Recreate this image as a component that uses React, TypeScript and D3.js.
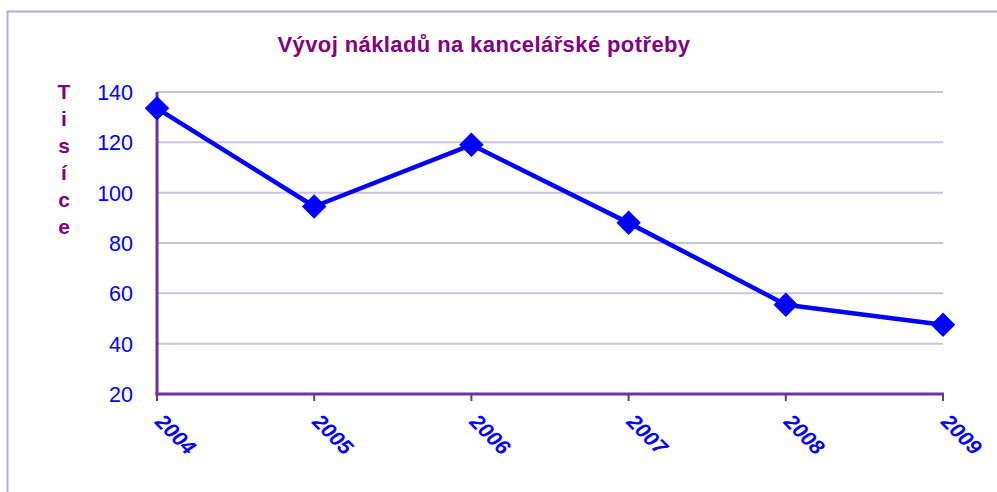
import React, { useEffect, useRef } from "react";
import * as d3 from "d3";

// chart data
const years = ["2004", "2005", "2006", "2007", "2008", "2009"];
const costs = [133.5, 94.5, 119, 88, 55.5, 47.5];
const yTicks = [20, 40, 60, 80, 100, 120, 140];
const chartTitle = "Vývoj nákladů na kancelářské potřeby";
const axisTitle = "Tisíce";

const W = 997;
const H = 492;

export default function App() {
  const ref = useRef<SVGSVGElement>(null);

  useEffect(() => {
    const svg = d3.select(ref.current);
    svg.selectAll("*").remove();

    const margin = { top: 92, right: 54, bottom: 98, left: 157 };

    // x: points at each year, y: linear 20..140
    const x = d3.scalePoint<string>()
      .domain(years)
      .range([margin.left, W - margin.right]);
    const y = d3.scaleLinear()
      .domain([20, 140])
      .range([H - margin.bottom, margin.top]);

    // outer frame (runs off the right/bottom edge)
    svg.append("rect")
      .attr("x", 7.5).attr("y", 11.5)
      .attr("width", 1010).attr("height", 500)
      .attr("fill", "none")
      .attr("stroke", "#B9AAD2")
      .attr("stroke-width", 2);

    // title
    svg.append("text")
      .attr("x", 484).attr("y", 52)
      .attr("text-anchor", "middle")
      .attr("font-family", "Liberation Sans, Arial, sans-serif")
      .attr("font-weight", "bold")
      .attr("font-size", 22)
      .attr("letter-spacing", 0.4)
      .attr("fill", "#800080")
      .text(chartTitle);

    // vertical axis title, one letter per line
    svg.append("g")
      .selectAll("text")
      .data(axisTitle.split(""))
      .enter()
      .append("text")
      .attr("x", 64)
      .attr("y", (d, i) => 99 + i * 27)
      .attr("text-anchor", "middle")
      .attr("font-family", "Liberation Sans, Arial, sans-serif")
      .attr("font-weight", "bold")
      .attr("font-size", 21)
      .attr("fill", "#800080")
      .text(d => d);

    // horizontal gridlines
    svg.append("g")
      .selectAll("line")
      .data(yTicks.filter(t => t > 20))
      .enter()
      .append("line")
      .attr("x1", margin.left)
      .attr("x2", W - margin.right)
      .attr("y1", d => y(d))
      .attr("y2", d => y(d))
      .attr("stroke", "#CDC2DC")
      .attr("stroke-width", 2);

    // y tick labels
    svg.append("g")
      .selectAll("text")
      .data(yTicks)
      .enter()
      .append("text")
      .attr("x", 133)
      .attr("y", d => y(d) + 8)
      .attr("text-anchor", "end")
      .attr("font-family", "Liberation Sans, Arial, sans-serif")
      .attr("font-size", 21.5)
      .attr("fill", "#0000FF")
      .text(d => d);

    // axes lines
    const axisColor = "#7030A0";
    svg.append("line")
      .attr("x1", margin.left).attr("x2", margin.left)
      .attr("y1", y(140)).attr("y2", y(20) + 1.5)
      .attr("stroke", axisColor).attr("stroke-width", 3);
    svg.append("line")
      .attr("x1", margin.left - 1.5).attr("x2", W - margin.right + 1)
      .attr("y1", y(20)).attr("y2", y(20))
      .attr("stroke", axisColor).attr("stroke-width", 3);

    // x ticks
    svg.append("g")
      .selectAll("line")
      .data(years)
      .enter()
      .append("line")
      .attr("x1", d => x(d)!)
      .attr("x2", d => x(d)!)
      .attr("y1", y(20))
      .attr("y2", y(20) + 7)
      .attr("stroke", axisColor)
      .attr("stroke-width", 2);

    // x tick labels, rotated 45deg
    svg.append("g")
      .selectAll("text")
      .data(years)
      .enter()
      .append("text")
      .attr("transform", d => `translate(${x(d)! - 3},${y(20) + 29}) rotate(45)`)
      .attr("text-anchor", "start")
      .attr("font-family", "Liberation Sans, Arial, sans-serif")
      .attr("font-weight", "bold")
      .attr("font-style", "italic")
      .attr("font-size", 21)
      .attr("fill", "#0000FF")
      .text(d => d);

    // the line
    const line = d3.line<number>()
      .x((d, i) => x(years[i])!)
      .y(d => y(d));
    svg.append("path")
      .datum(costs)
      .attr("d", line)
      .attr("fill", "none")
      .attr("stroke", "#0000FF")
      .attr("stroke-width", 4.5)
      .attr("stroke-linejoin", "round");

    // diamond markers
    const diamond = d3.symbol().type(d3.symbolSquare).size(300);
    svg.append("g")
      .selectAll("path")
      .data(costs)
      .enter()
      .append("path")
      .attr("d", diamond)
      .attr("transform", (d, i) => `translate(${x(years[i])},${y(d)}) rotate(45)`)
      .attr("fill", "#0000FF");
  }, []);

  return (
    <svg
      ref={ref}
      width={W}
      height={H}
      style={{ position: "absolute", left: 0, top: 0, background: "#fff" }}
    />
  );
}
